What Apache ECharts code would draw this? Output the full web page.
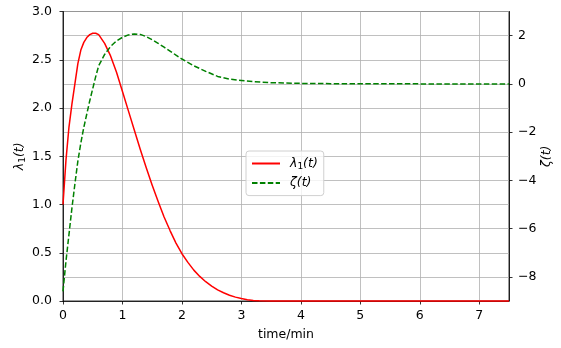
<!DOCTYPE html>
<html>
<head>
<meta charset="utf-8">
<script src="https://cdn.jsdelivr.net/npm/echarts@6/dist/echarts.min.js"></script>
<style>
  html, body { margin: 0; padding: 0; background: #fff; }
  #chart { width: 561px; height: 348px; }
</style>
</head>
<body>
<div id="chart"></div>
<script>
// λ1(t) samples (left axis)
const lambdaT = [0, 0.05, 0.1, 0.15, 0.2, 0.25, 0.3, 0.35, 0.4, 0.45, 0.5, 0.55, 0.6, 0.7, 0.8, 0.9,
  1.0, 1.1, 1.2, 1.3, 1.4, 1.5, 1.6, 1.7, 1.8, 1.9, 2.0, 2.1, 2.2, 2.3, 2.4, 2.5, 2.6, 2.7, 2.8, 2.9,
  3.0, 3.1, 3.2, 3.3, 3.5, 4, 5, 6, 7, 7.5];
const lambdaVals = [1.00, 1.46, 1.80, 2.04, 2.25, 2.46, 2.60, 2.68, 2.73, 2.76, 2.775, 2.775, 2.76, 2.67, 2.54, 2.37,
  2.17, 1.97, 1.77, 1.57, 1.38, 1.20, 1.03, 0.87, 0.73, 0.60, 0.49, 0.40, 0.32, 0.255, 0.20, 0.155, 0.115, 0.085, 0.06, 0.04,
  0.025, 0.014, 0.006, 0.002, 0, 0, 0, 0, 0, 0];

// ζ(t) samples (right axis)
const zetaT = [0, 0.05, 0.1, 0.15, 0.2, 0.25, 0.3, 0.35, 0.4, 0.45, 0.5, 0.55, 0.6, 0.7, 0.8, 0.9,
  1.0, 1.1, 1.2, 1.3, 1.4, 1.5, 1.6, 1.7, 1.8, 1.9, 2.0, 2.2, 2.4, 2.6, 2.8, 3.0, 3.2, 3.5, 4.0, 4.5, 5, 6, 7, 7.5];
const zetaVals = [-8.6, -7.35, -6.25, -5.15, -4.15, -3.2, -2.45, -1.8, -1.25, -0.7, -0.2, 0.3, 0.75, 1.22, 1.55, 1.78,
  1.93, 2.03, 2.07, 2.05, 1.96, 1.83, 1.68, 1.52, 1.36, 1.19, 1.03, 0.75, 0.52, 0.31, 0.20, 0.14, 0.09, 0.05, 0.02, 0.01, 0.005, 0, 0, 0];

// tick positions
const xTicks = [0, 1, 2, 3, 4, 5, 6, 7];
const rightTicks = [-8, -6, -4, -2, 0, 2];

const FONT = 'DejaVu Sans';
const FS = 12.5;
const gridColor = '#b0b0b0';
const rich = {
  i: { fontFamily: FONT, fontStyle: 'italic', fontSize: FS, color: '#000' },
  s: { fontFamily: FONT, fontStyle: 'normal', fontSize: 9, color: '#000', verticalAlign: 'bottom', padding: [6, 0, 0, 0] }
};

const pairs = (ts, vs) => ts.map((t, k) => [t, vs[k]]);
const minus = v => String(v).replace('-', '\u2212');

const chart = echarts.init(document.getElementById('chart'), null, { renderer: 'canvas' });
chart.setOption({
  animation: false,
  backgroundColor: '#fff',
  textStyle: { fontFamily: FONT },
  grid: {
    left: 63, right: 52, top: 11.5, bottom: 47,
    outerBoundsMode: 'none', containLabel: false,
    show: true, borderColor: '#000', borderWidth: 0.8, backgroundColor: 'transparent'
  },
  legend: {
    orient: 'vertical',
    left: 246, top: 151,
    padding: [6, 6, 6, 5],
    itemGap: 5.6,
    itemWidth: 28, itemHeight: 14,
    backgroundColor: 'rgba(255,255,255,0.8)',
    borderColor: '#d0d0d0', borderWidth: 1, borderRadius: 3,
    itemStyle: { opacity: 0, color: 'transparent', borderWidth: 0 },
    textStyle: { fontFamily: FONT, fontSize: FS, color: '#000', padding: [0, 0, 0, 5], rich: rich },
    formatter: name => name === 'lambda' ? '{i|λ}{s|1}{i|(t)}' : '{i|ζ(t)}',
    data: ['lambda', 'zeta']
  },
  xAxis: {
    type: 'value', min: 0, max: 7.5, interval: 1,
    name: 'time/min', nameLocation: 'middle', nameGap: 27.5, nameMoveOverlap: false,
    nameTextStyle: { fontFamily: FONT, fontSize: FS, color: '#000' },
    axisLine: { show: true, lineStyle: { color: '#000', width: 0.8 } },
    axisTick: { show: true, length: 3.5, lineStyle: { color: '#000', width: 0.8 }, customValues: xTicks },
    axisLabel: { fontFamily: FONT, fontSize: FS, color: '#000', margin: 8.5, customValues: xTicks },
    splitLine: { show: true, lineStyle: { color: gridColor, width: 0.8 } }
  },
  yAxis: [
    {
      type: 'value', min: 0, max: 3, interval: 0.5, position: 'left',
      name: '{i|λ}{s|1}{i|(t)}', nameLocation: 'middle', nameGap: 36, nameRotate: 90, nameMoveOverlap: false,
      nameTextStyle: { fontFamily: FONT, fontSize: FS, color: '#000', rich: rich },
      axisLine: { show: true, onZero: false, lineStyle: { color: '#000', width: 0.8 } },
      axisTick: { show: true, length: 3.5, lineStyle: { color: '#000', width: 0.8 } },
      axisLabel: { fontFamily: FONT, fontSize: FS, color: '#000', margin: 11, formatter: v => v.toFixed(1) },
      splitLine: { show: true, lineStyle: { color: gridColor, width: 0.8 } }
    },
    {
      type: 'value', min: -9, max: 3, position: 'right',
      name: '{i|ζ(t)}', nameLocation: 'middle', nameGap: 31, nameRotate: 90, nameMoveOverlap: false,
      nameTextStyle: { fontFamily: FONT, fontSize: FS, color: '#000', rich: rich },
      axisLine: { show: true, onZero: false, lineStyle: { color: '#000', width: 0.8 } },
      axisTick: { show: true, length: 3.5, lineStyle: { color: '#000', width: 0.8 }, customValues: rightTicks },
      axisLabel: { fontFamily: FONT, fontSize: FS, color: '#000', margin: 9, customValues: rightTicks, formatter: v => minus(v) },
      splitLine: { show: true, lineStyle: { color: gridColor, width: 0.8 } }
    }
  ],
  series: [
    {
      name: 'lambda', type: 'line', yAxisIndex: 0,
      data: pairs(lambdaT, lambdaVals),
      showSymbol: false, symbol: 'none', smooth: false, clip: false,
      lineStyle: { color: '#ff0000', width: 1.5, join: 'round' }, itemStyle: { color: '#ff0000' }, z: 3
    },
    {
      name: 'zeta', type: 'line', yAxisIndex: 1,
      data: pairs(zetaT, zetaVals),
      showSymbol: false, symbol: 'none', smooth: false, clip: false,
      lineStyle: { color: '#008000', width: 1.5, type: [5.5, 2.4], join: 'round' }, itemStyle: { color: '#008000' }, z: 3
    }
  ]
});
</script>
</body>
</html>
